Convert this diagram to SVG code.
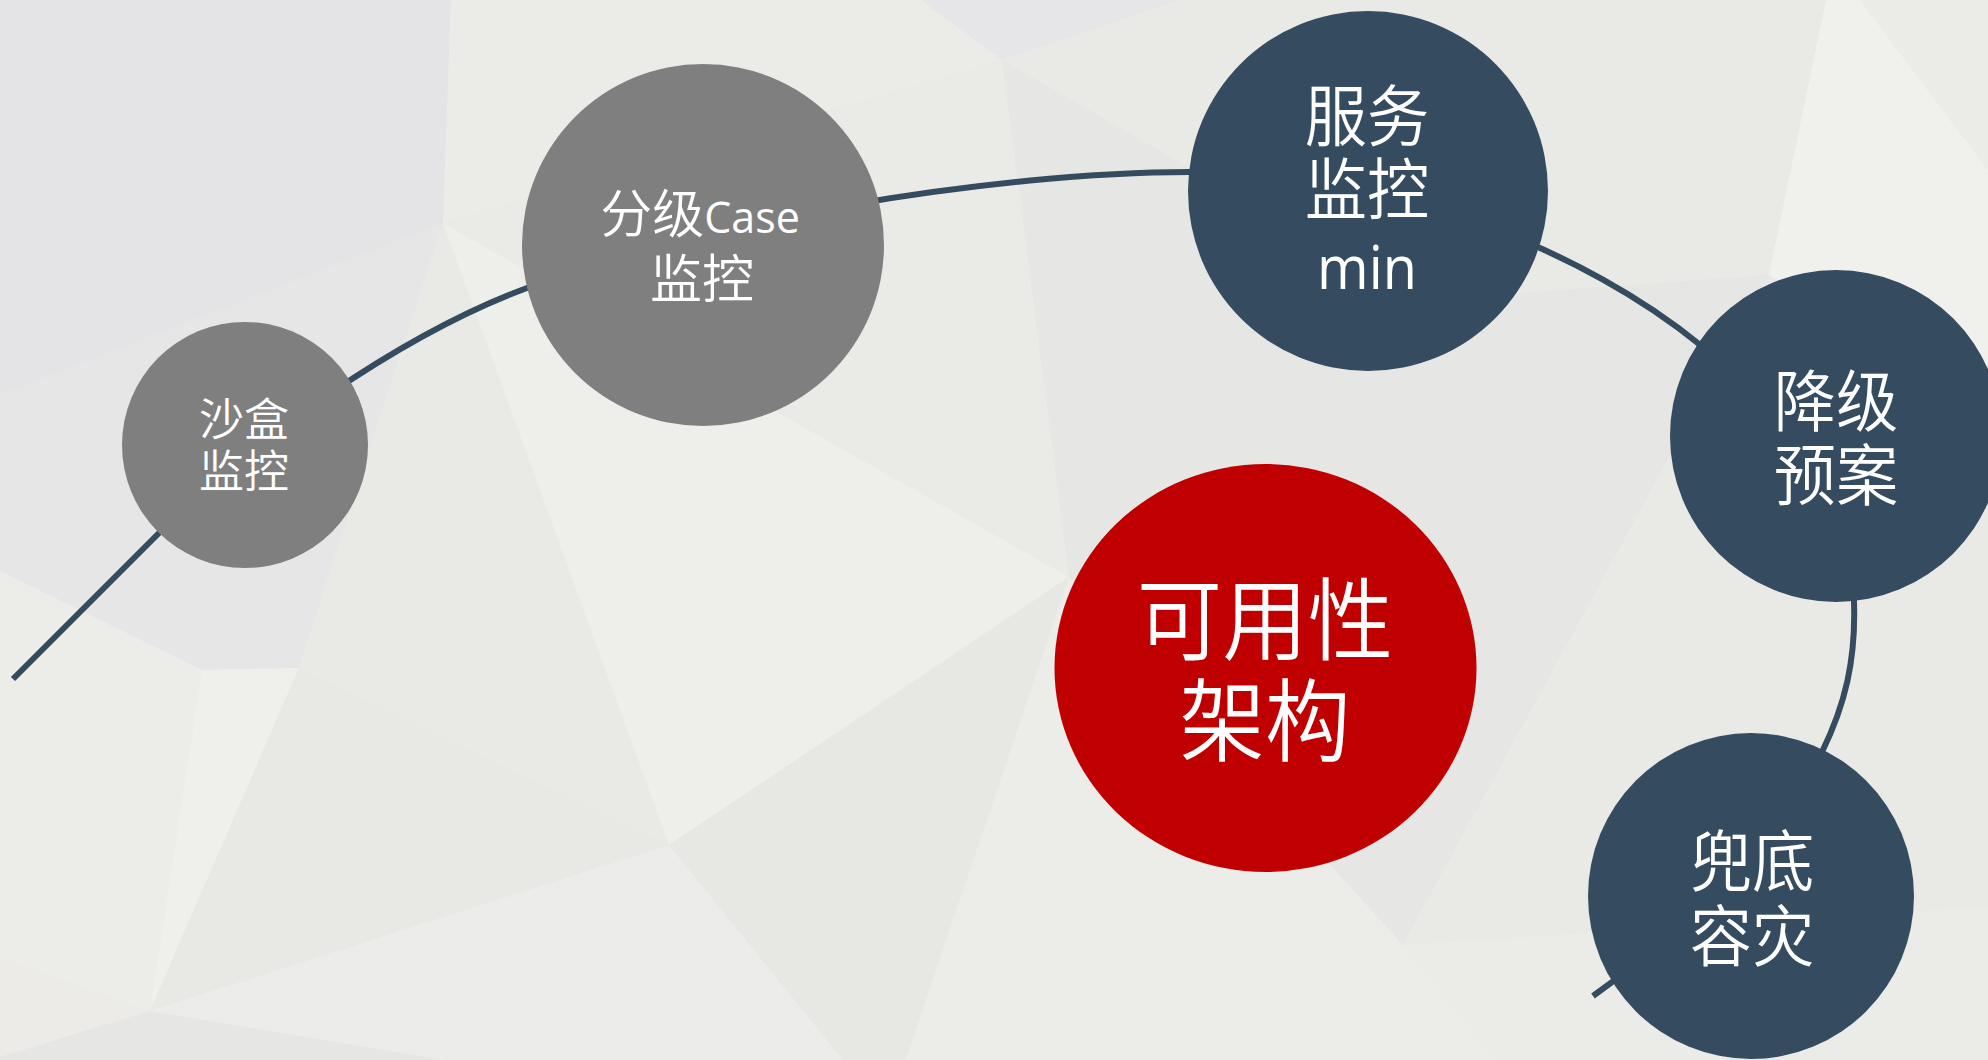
<svg xmlns="http://www.w3.org/2000/svg" width="1988" height="1060" viewBox="0 0 1988 1060">
<style>
.cjk{font-family:"Noto Sans CJK SC","Open Sans",sans-serif;fill:#ffffff;text-anchor:middle;font-weight:350}
.lat{font-family:"Open Sans","Noto Sans CJK SC",sans-serif;font-weight:400}
.gray{fill:#7f7f7f}
.navy{fill:#354b5f}
.red{fill:#c00000}
.conn{fill:none;stroke:#354b5f;stroke-width:6;stroke-linecap:butt}
</style>
<g id="background">
<rect x="0" y="0" width="1988" height="1060" fill="#eaeae7"/>
<polygon points="0,0 451,0 443,223 0,395" fill="#e4e3e5"/>
<polygon points="0,395 443,223 299,668 202,670 0,571" fill="#e7e6e6"/>
<polygon points="0,571 202,670 150,1011 0,958" fill="#ecece9"/>
<polygon points="202,670 299,668 150,1011" fill="#efefeb"/>
<polygon points="299,668 669,845 150,1011" fill="#e8e8e5"/>
<polygon points="0,958 150,1011 0,1057" fill="#ecebe8"/>
<polygon points="0,1057 150,1011 446,1060 0,1060" fill="#e6e6e4"/>
<polygon points="150,1011 669,845 843,1060 446,1060" fill="#ececea"/>
<polygon points="443,223 669,845 299,668" fill="#e9e9e6"/>
<polygon points="443,223 1069,577 669,845" fill="#eeeeeb"/>
<polygon points="451,0 921,0 1002,60 443,223" fill="#ebebe8"/>
<polygon points="443,223 1002,60 1069,577" fill="#eaeae7"/>
<polygon points="921,0 1180,0 1002,60" fill="#e6e5e7"/>
<polygon points="669,845 1069,577 906,1060 843,1060" fill="#e7e7e4"/>
<polygon points="1069,577 1403,945 1495,1060 906,1060" fill="#ecece9"/>
<polygon points="1002,60 1180,0 1826,0 1769,275 1420,300" fill="#e9e9e6"/>
<polygon points="1002,60 1420,300 1403,945 1069,577" fill="#e6e6e4"/>
<polygon points="1826,0 1860,0 1988,170 1988,420 1769,275" fill="#f0f0ec"/>
<polygon points="1860,0 1988,0 1988,170" fill="#ebebe8"/>
<polygon points="1420,300 1769,275 1403,945" fill="#e6e6e4"/>
<polygon points="1769,275 1988,420 1988,907 1403,945" fill="#e9e9e6"/>
<polygon points="1403,945 1988,907 1988,1060 1495,1060" fill="#ebebe8"/>
</g>
<g id="connectors">
<path class="conn" d="M 13 679 L 160 532 C 250 442 400 335 527 288 C 700 220 1000 172 1189 172 C 1400 172 1590 255 1699 344 C 1800 420 1854 520 1854 602 C 1856 660 1845 705 1822 752 C 1780 840 1700 930 1612 982 L 1593 996"/>
</g>
<g id="node-sandbox">
<circle class="gray" cx="245" cy="445" r="123"/>
<text class="cjk" font-size="45"><tspan x="244" y="436">沙盒</tspan><tspan x="244" y="488">监控</tspan></text>
</g>
<g id="node-case">
<circle class="gray" cx="703" cy="245" r="181"/>
<text class="cjk" font-size="52"><tspan x="700" y="233">分级<tspan class="lat" font-size="43">Case</tspan></tspan><tspan x="702" y="298">监控</tspan></text>
</g>
<g id="node-service">
<circle class="navy" cx="1368" cy="191" r="180"/>
<text class="cjk" font-size="67" transform="translate(1367,0) scale(0.93,1)"><tspan x="0" y="141">服务</tspan><tspan x="0" y="214">监控</tspan><tspan class="lat" x="0" y="289" font-size="60">min</tspan></text>
</g>
<g id="node-degrade">
<circle class="navy" cx="1836" cy="436" r="166"/>
<text class="cjk" font-size="67" transform="translate(1836,0) scale(0.93,1)"><tspan x="0" y="426">降级</tspan><tspan x="0" y="500">预案</tspan></text>
</g>
<g id="node-fallback">
<circle class="navy" cx="1751" cy="896" r="163"/>
<text class="cjk" font-size="67" transform="translate(1752,0) scale(0.93,1)"><tspan x="0" y="886">兜底</tspan><tspan x="0" y="961">容灾</tspan></text>
</g>
<g id="node-core">
<ellipse class="red" cx="1265.5" cy="668" rx="211" ry="204"/>
<text class="cjk" font-size="90" transform="translate(1265,0) scale(0.95,1)"><tspan x="0" y="653">可用性</tspan><tspan x="0" y="754">架构</tspan></text>
</g>
</svg>
